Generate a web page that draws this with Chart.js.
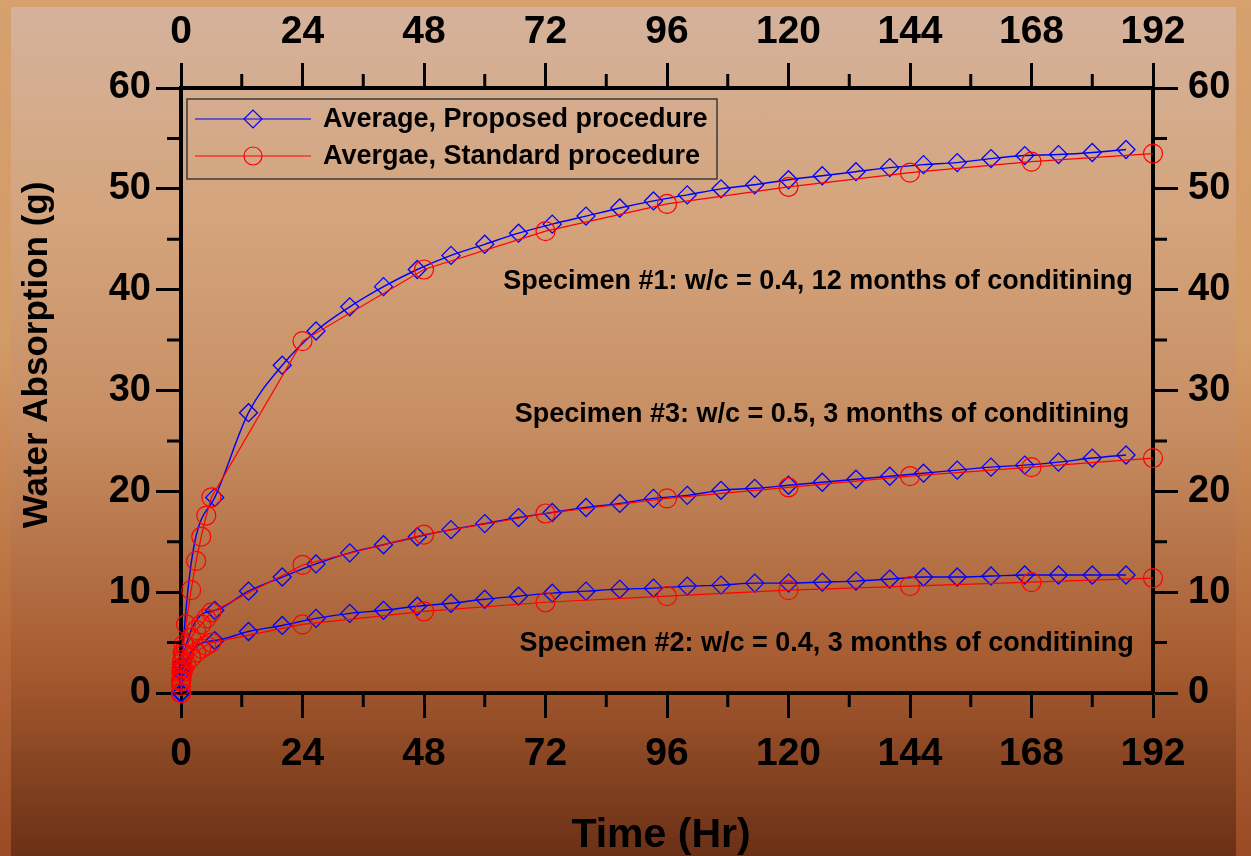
<!DOCTYPE html>
<html>
<head>
<meta charset="utf-8">
<script src="https://cdn.jsdelivr.net/npm/chart.js@4.4.1/dist/chart.umd.min.js"></script>
<style>
  html, body { margin: 0; padding: 0; width: 1251px; height: 856px; overflow: hidden; }
  body { background: linear-gradient(#d6a16f 0%, #d29a66 40%, #b5683a 75%, #9a4a24 100%); }
  #panel { position: absolute; left: 11px; top: 7px; width: 1225px; height: 849px;
    background: linear-gradient(#d5b29c 0%, #d4a47c 25%, #c78d62 50%, #a65a2f 78%, #6a3016 100%); }
  #chart { position: absolute; left: 0; top: 0; }
</style>
</head>
<body>
<div id="panel"></div>
<canvas id="chart" width="1251" height="856"></canvas>
<script>
// time axis (hours) and tick values
const X_MAJOR = [0, 24, 48, 72, 96, 120, 144, 168, 192];
const X_MINOR = [12, 36, 60, 84, 108, 132, 156, 180];
const Y_MAJOR = [0, 10, 20, 30, 40, 50, 60];
const Y_MINOR = [5, 15, 25, 35, 45, 55];

const LEGEND_LABELS = ["Average, Proposed procedure", "Avergae, Standard procedure"];
const X_TITLE = "Time (Hr)";
const Y_TITLE = "Water Absorption (g)";

// proposed procedure readings
const PROPOSED_TIME = [0, 0.1, 6.67, 13.33, 20, 26.67, 33.33, 40, 46.67, 53.33, 60, 66.67, 73.33, 80, 86.67, 93.33,
  100, 106.67, 113.33, 120, 126.67, 133.33, 140, 146.67, 153.33, 160, 166.67, 173.33, 180, 186.67];
const PROPOSED_S1 = [0, 2.5, 19.4, 27.8, 32.5, 35.9, 38.3, 40.3, 42.0, 43.4, 44.5, 45.6, 46.5, 47.3, 48.1, 48.8,
  49.4, 50.0, 50.4, 50.9, 51.3, 51.7, 52.1, 52.4, 52.6, 53.0, 53.3, 53.4, 53.6, 53.9];
const PROPOSED_S3 = [0, 2.8, 8.2, 10.1, 11.5, 12.8, 13.9, 14.7, 15.5, 16.2, 16.8, 17.4, 17.9, 18.4, 18.8, 19.3,
  19.6, 20.1, 20.3, 20.6, 20.9, 21.2, 21.5, 21.8, 22.1, 22.4, 22.6, 22.9, 23.3, 23.6];
const PROPOSED_S2 = [0, 2.0, 5.2, 6.1, 6.7, 7.4, 7.9, 8.2, 8.6, 8.9, 9.3, 9.6, 9.9, 10.1, 10.3, 10.4,
  10.6, 10.7, 10.9, 10.9, 11.0, 11.1, 11.3, 11.5, 11.5, 11.6, 11.7, 11.7, 11.7, 11.7];

// standard procedure readings
const STANDARD_TIME = [0, 0.017, 0.083, 0.167, 0.333, 0.5, 1, 2, 3, 4, 5, 6, 24, 48, 72, 96, 120, 144, 168, 192];
const STANDARD_S1 = [0, 1.2, 2.3, 3.0, 4.0, 4.8, 6.8, 10.2, 13.1, 15.5, 17.6, 19.4, 34.9, 42.0, 45.8, 48.5, 50.2, 51.6, 52.7, 53.5];
const STANDARD_S3 = [0, 1.1, 2.0, 2.6, 3.3, 3.8, 4.6, 5.5, 6.25, 6.8, 7.4, 8.0, 12.7, 15.7, 17.8, 19.3, 20.4, 21.5, 22.4, 23.3];
const STANDARD_S2 = [0, 0.7, 1.3, 1.7, 2.1, 2.4, 2.9, 3.5, 4.0, 4.4, 4.7, 5.0, 6.8, 8.1, 9.0, 9.6, 10.2, 10.6, 11.0, 11.4];

const NOTES = [
  { text: "Specimen #1: w/c = 0.4, 12 months of conditining", t: 188, v: 40.8 },
  { text: "Specimen #3: w/c = 0.5, 3 months of conditining", t: 187.3, v: 27.6 },
  { text: "Specimen #2: w/c = 0.4, 3 months of conditining", t: 188.2, v: 4.9 }
];

const FONT = "'Liberation Sans', Arial, sans-serif";
const BLUE = '#0000ff', RED = '#ff0000';

const pts = (ts, vs) => ts.map((t, i) => ({ x: t, y: vs[i] }));

function proposed(vals) {
  return {
    data: pts(PROPOSED_TIME, vals), borderColor: BLUE, borderWidth: 1.4, order: 1, clip: false,
    pointStyle: 'rectRot', pointRadius: 9, pointBorderWidth: 1.3, pointBackgroundColor: 'transparent',
    pointBorderColor: BLUE, cubicInterpolationMode: 'monotone'
  };
}
function standard(vals) {
  return {
    data: pts(STANDARD_TIME, vals), borderColor: RED, borderWidth: 1.2, order: 0, clip: false,
    pointStyle: 'circle', pointRadius: 9.5, pointBorderWidth: 1.2, pointBackgroundColor: 'transparent',
    pointBorderColor: RED, tension: 0
  };
}

function xAxis(pos) {
  return {
    type: 'linear', axis: 'x', position: pos, min: 0, max: 192,
    afterFit: s => { s.height = pos === 'bottom' ? 163 : 88; },
    afterBuildTicks: s => { s.ticks = X_MAJOR.map(v => ({ value: v })); },
    ticks: { color: '#000', font: { family: FONT, size: 39, weight: 'bold' }, padding: pos === 'bottom' ? 13 : 7, maxRotation: 0, autoSkip: false },
    grid: { drawOnChartArea: false, tickLength: 25, tickWidth: 3, tickColor: '#000' },
    border: { color: '#000', width: 4 },
    title: { display: false }
  };
}
function yAxis(pos) {
  return {
    type: 'linear', axis: 'y', position: pos, min: 0, max: 60,
    afterFit: s => { s.width = pos === 'left' ? 181 : 98; },
    afterBuildTicks: s => { s.ticks = Y_MAJOR.map(v => ({ value: v })); },
    ticks: { color: '#000', font: { family: FONT, size: 38, weight: 'bold' }, padding: pos === 'left' ? 5 : 10 },
    grid: { drawOnChartArea: false, tickLength: 25, tickWidth: 3, tickColor: '#000' },
    border: { color: '#000', width: 4 },
    title: { display: false }
  };
}

// minor ticks, axis titles, legend box and specimen notes
const extras = {
  id: 'extras',
  afterDraw(chart) {
    const { ctx, chartArea: a, scales } = chart;
    ctx.save();
    ctx.strokeStyle = '#000';
    ctx.lineWidth = 3;
    ctx.beginPath();
    X_MINOR.forEach(v => {
      const px = scales.x.getPixelForValue(v);
      ctx.moveTo(px, a.bottom); ctx.lineTo(px, a.bottom + 14);
      ctx.moveTo(px, a.top); ctx.lineTo(px, a.top - 14);
    });
    Y_MINOR.forEach(v => {
      const py = scales.y.getPixelForValue(v);
      ctx.moveTo(a.left, py); ctx.lineTo(a.left - 14, py);
      ctx.moveTo(a.right, py); ctx.lineTo(a.right + 14, py);
    });
    ctx.stroke();

    // axis titles
    ctx.fillStyle = '#000';
    ctx.textAlign = 'center';
    ctx.textBaseline = 'alphabetic';
    ctx.font = `bold 41px ${FONT}`;
    ctx.fillText(X_TITLE, 661, 847);
    ctx.save();
    ctx.translate(47, 355);
    ctx.rotate(-Math.PI / 2);
    ctx.font = `bold 35px ${FONT}`;
    ctx.fillText(Y_TITLE, 0, 0);
    ctx.restore();

    // legend
    ctx.lineWidth = 1.5;
    ctx.strokeStyle = '#3a3a3a';
    ctx.strokeRect(a.left + 6, a.top + 11, 530, 80);
    const rows = [{ c: BLUE, y: a.top + 31, s: 'diamond' }, { c: RED, y: a.top + 68, s: 'circle' }];
    ctx.font = `bold 27px ${FONT}`;
    ctx.textBaseline = 'middle';
    ctx.textAlign = 'left';
    rows.forEach((r, i) => {
      const cx = a.left + 72;
      ctx.strokeStyle = r.c;
      ctx.lineWidth = 1.2;
      ctx.beginPath();
      ctx.moveTo(a.left + 14, r.y); ctx.lineTo(a.left + 130, r.y);
      ctx.stroke();
      ctx.beginPath();
      if (r.s === 'diamond') {
        ctx.moveTo(cx - 9, r.y); ctx.lineTo(cx, r.y - 9); ctx.lineTo(cx + 9, r.y); ctx.lineTo(cx, r.y + 9); ctx.closePath();
      } else {
        ctx.arc(cx, r.y, 9, 0, Math.PI * 2);
      }
      ctx.stroke();
      ctx.fillStyle = '#000';
      ctx.fillText(LEGEND_LABELS[i], a.left + 142, r.y + 1);
    });

    // notes
    ctx.textAlign = 'right';
    NOTES.forEach(n => {
      ctx.fillText(n.text, scales.x.getPixelForValue(n.t), scales.y.getPixelForValue(n.v));
    });
    ctx.restore();
  }
};

new Chart(document.getElementById('chart'), {
  type: 'line',
  data: {
    datasets: [
      proposed(PROPOSED_S1), proposed(PROPOSED_S3), proposed(PROPOSED_S2),
      standard(STANDARD_S1), standard(STANDARD_S3), standard(STANDARD_S2)
    ]
  },
  options: {
    responsive: false,
    animation: false,
    devicePixelRatio: 1,
    layout: { padding: 0 },
    plugins: { legend: { display: false }, tooltip: { enabled: false } },
    scales: { x: xAxis('bottom'), x2: xAxis('top'), y: yAxis('left'), y2: yAxis('right') }
  },
  plugins: [extras]
});
</script>
</body>
</html>
